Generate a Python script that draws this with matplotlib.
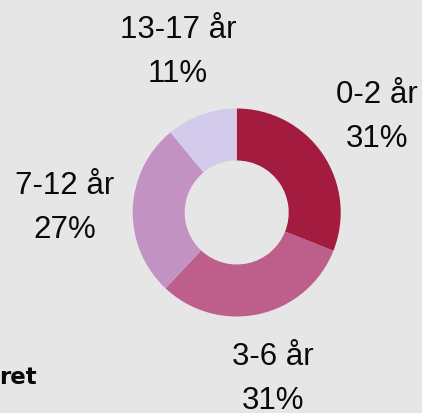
import matplotlib.pyplot as plt

# data
labels = ["0-2 år", "3-6 år", "7-12 år", "13-17 år"]
shares = [31, 31, 27, 11]
colors = ["#a31c3f", "#bd5e8b", "#c292c3", "#d3cbeb"]

W, H = 422, 413
BG = "#e6e6e6"

fig = plt.figure(figsize=(W / 100, H / 100), dpi=100, facecolor=BG)
ax = fig.add_axes([0, 0, 1, 1])
ax.set_facecolor(BG)

cx, cy, R = 236.7, H - 212.5, 104
ax.pie(shares, colors=colors, startangle=90, counterclock=False,
       center=(cx, cy), radius=R, frame=True,
       wedgeprops=dict(width=R * 0.5, linewidth=0))

ax.set_xlim(0, W)
ax.set_ylim(0, H)
ax.set_aspect("auto")
ax.axis("off")

# label positions (pixel coords from top-left)
label_pos = [(377, 117), (273, 379), (65, 208), (178, 52)]
for lab, val, (px, py) in zip(labels, shares, label_pos):
    ax.text(px, H - py, f"{lab}\n{val}%", ha="center", va="center",
            fontsize=22.5, family="Liberation Sans", color="#0a0a0a",
            linespacing=1.62)

# cut-off title text at bottom left
ax.text(-1, H - 377, "ret", ha="left", va="center", fontsize=16.5,
        fontweight="bold", family="DejaVu Sans", color="#0a0a0a")

fig.savefig("out.png", dpi=100, facecolor=BG)
